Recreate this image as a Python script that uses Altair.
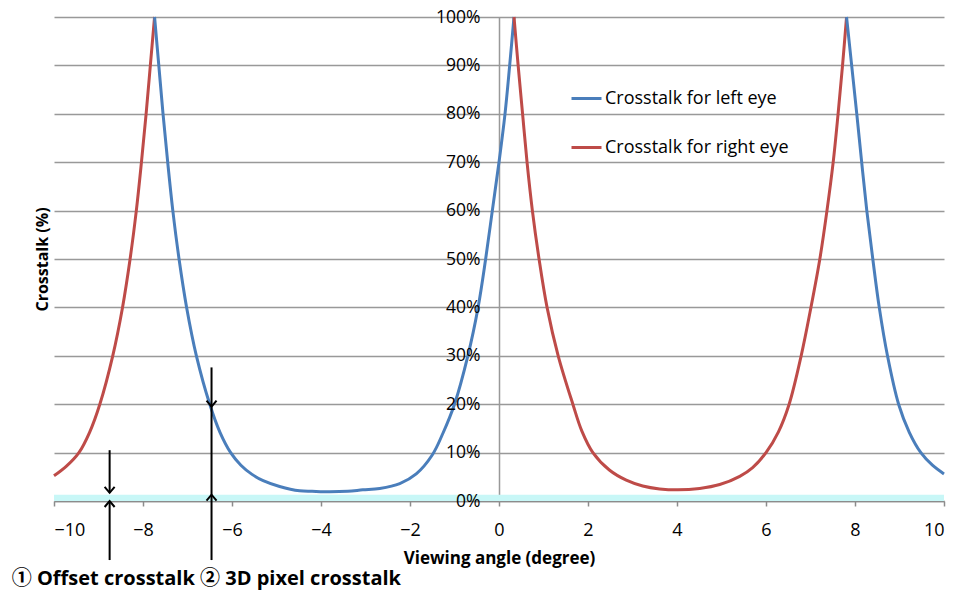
import altair as alt
import pandas as pd

# ---- data ----
# Crosstalk for right eye, left branch (-10 .. first peak)
r1_x = [-10.0, -9.72, -9.44, -9.2, -8.97, -8.68, -8.46, -8.29, -8.15, -8.035, -7.93, -7.835, -7.74]
r1_y = [5.2, 7.2, 10.0, 14.2, 20, 30, 40, 50, 60, 70, 80, 90, 100]
# Crosstalk for left eye, first lobe
l1_x = [-7.74, -7.645, -7.55, -7.445, -7.33, -7.19, -7.02, -6.80, -6.50, -6.27,
        -6.03, -5.80, -5.55, -5.30, -4.93, -4.48, -4.2, -3.8, -3.4, -3.06,
        -2.68, -2.23, -1.86, -1.50, -1.26, -1.0, -0.70, -0.47, -0.30, -0.15,
        0.0, 0.135, 0.24, 0.337]
l1_y = [100, 90, 80, 70, 60, 50, 40, 30, 20, 14.2,
        10.0, 7.4, 5.5, 4.2, 3.0, 2.1, 2.0, 1.9, 2.0, 2.3,
        2.6, 3.6, 5.6, 9.5, 14.0, 20, 30, 40, 50, 60,
        70, 80, 90, 100]
# Crosstalk for right eye, second lobe
r2_x = [0.337, 0.43, 0.53, 0.63, 0.75, 0.90, 1.08, 1.33, 1.66, 1.86,
        2.11, 2.48, 2.86, 3.23, 3.61, 4.02, 4.51, 4.96, 5.41, 5.70,
        6.0, 6.28, 6.52, 6.79, 7.01, 7.21, 7.37, 7.51, 7.62, 7.72, 7.81]
r2_y = [100, 90, 80, 70, 60, 50, 40, 30, 20, 14.5,
        10, 6.4, 4.3, 3.1, 2.5, 2.3, 2.6, 3.4, 5.1, 6.9,
        10, 14.3, 20, 30, 40, 50, 60, 70, 80, 90, 100]
# Crosstalk for left eye, right branch
l2_x = [7.81, 7.925, 8.04, 8.15, 8.265, 8.40, 8.545, 8.73, 8.98, 9.22, 9.48, 9.74, 10.0]
l2_y = [100, 90, 80, 70, 60, 50, 40, 30, 20, 14.2, 10, 7.4, 5.6]

series_names = ["Crosstalk for left eye", "Crosstalk for right eye"]
series_colors = ["#4A7EBB", "#BE4B48"]

# offset band
band_x = [-10, 10]
band_y = [0, 1.3]

# arrows (shafts) and arrow heads
shaft_x = [-8.75, -8.75, -6.46]
shaft_top = [10.5, 0, 27.6]
shaft_bottom = [1.7, -12.2, -12.2]
down_head_x = [-8.75, -6.46]
down_head_y = [1.7, 19.5]
up_head_x = [-8.75, -6.46]
up_head_y = [0.0, 1.3]

note_text = "① Offset crosstalk ② 3D pixel crosstalk"
note_x = -10.95
note_y = -17.4

x_ticks = list(range(-10, 11, 2))
y_ticks = list(range(0, 101, 10))

FONT = "Open Sans, Noto Sans CJK KR, sans-serif"

# ---- build tables ----
rows = []
for seg, (xs, ys, name) in enumerate([
        (r1_x, r1_y, series_names[1]),
        (l1_x, l1_y, series_names[0]),
        (r2_x, r2_y, series_names[1]),
        (l2_x, l2_y, series_names[0])]):
    for a, b in zip(xs, ys):
        rows.append({"x": a, "y": b, "series": name, "seg": seg})
lines_df = pd.DataFrame(rows)

band_df = pd.DataFrame({"x": [band_x[0]], "x2": [band_x[1]], "y": [band_y[0]], "y2": [band_y[1]]})
shaft_df = pd.DataFrame({"x": shaft_x, "y": shaft_top, "y2": shaft_bottom})
down_df = pd.DataFrame({"x": down_head_x, "y": down_head_y})
up_df = pd.DataFrame({"x": up_head_x, "y": up_head_y})
note_df = pd.DataFrame({"x": [note_x], "y": [note_y], "t": [note_text]})

xscale = alt.Scale(domain=[-10, 10], nice=False, zero=False)
yscale = alt.Scale(domain=[0, 100], nice=False)

x_axis = alt.Axis(
    values=x_ticks, grid=False, title="Viewing angle (degree)",
    domainColor="#8c8c8c", domainWidth=1.5, tickColor="#8c8c8c", tickWidth=1.5,
    tickSize=5, labelFontSize=18, labelFont=FONT, labelColor="black",
    labelPadding=15, titleFont=FONT, titleFontSize=17, titleFontWeight="bold",
    titleColor="black", titleY=62, titleBaseline="alphabetic")

# grid + axis line + title (behind the marks)
y_axis_grid = alt.Axis(
    orient="left", values=y_ticks, grid=True, gridColor="#999999", gridWidth=1.5,
    offset=-445, ticks=False, tickSize=0, labels=False,
    domainColor="#999999", domainWidth=1.5, zindex=0,
    title="Crosstalk (%)", titleFont=FONT, titleFontSize=16,
    titleFontWeight="bold", titleColor="black", titleAngle=270,
    titleX=-457, titleY=242, titleAlign="center", titleBaseline="middle")

# tick labels (in front of the band)
y_axis_labels = alt.Axis(
    orient="left", values=y_ticks, grid=False, domain=False, ticks=False, tickSize=0,
    labelExpr="datum.value + '%'", offset=-445, labelPadding=19,
    labelFontSize=17.5, labelFont=FONT, labelColor="black", title=None, zindex=1)

band = alt.Chart(band_df).mark_rect(color="#C8F7F7").encode(
    x=alt.X("x:Q", scale=xscale, axis=x_axis), x2="x2:Q",
    y=alt.Y("y:Q", scale=yscale, axis=y_axis_grid), y2="y2:Q")

lines = alt.Chart(lines_df).mark_line(strokeWidth=3, interpolate="catmull-rom").encode(
    x=alt.X("x:Q", scale=xscale, axis=x_axis),
    y=alt.Y("y:Q", scale=yscale, axis=y_axis_labels),
    color=alt.Color("series:N", scale=alt.Scale(domain=series_names, range=series_colors),
                    legend=alt.Legend(orient="none", legendX=516, legendY=65, title=None,
                                      symbolType="stroke", symbolSize=900,
                                      symbolStrokeWidth=3, labelFontSize=18,
                                      labelFont=FONT, labelColor="black", labelLimit=0,
                                      rowPadding=23, labelOffset=2, padding=0)),
    detail="seg:N")

shafts = alt.Chart(shaft_df).mark_rule(color="black", strokeWidth=2).encode(
    x=alt.X("x:Q", scale=xscale, axis=x_axis),
    y=alt.Y("y:Q", scale=yscale, axis=None), y2="y2:Q")

down_heads = alt.Chart(down_df).mark_point(
    shape="M-1,-1.2L0,0L1,-1.2", size=100, filled=False, stroke="black",
    strokeWidth=2, opacity=1).encode(
    x=alt.X("x:Q", scale=xscale, axis=x_axis), y=alt.Y("y:Q", scale=yscale, axis=None))

up_heads = alt.Chart(up_df).mark_point(
    shape="M-1,1.2L0,0L1,1.2", size=100, filled=False, stroke="black",
    strokeWidth=2, opacity=1).encode(
    x=alt.X("x:Q", scale=xscale, axis=x_axis), y=alt.Y("y:Q", scale=yscale, axis=None))

note = alt.Chart(note_df).mark_text(
    align="left", baseline="alphabetic", fontSize=20, fontWeight="bold",
    font=FONT, color="black").encode(
    x=alt.X("x:Q", scale=xscale, axis=x_axis),
    y=alt.Y("y:Q", scale=yscale, axis=None), text="t:N")

chart = alt.layer(band, lines, shafts, down_heads, up_heads, note).resolve_axis(
    y="independent"
).properties(
    width=890, height=484,
    autosize=alt.AutoSizeParams(type="none"),
    padding={"left": 54, "top": 17, "right": 14, "bottom": 90},
    background="white",
).configure_view(stroke=None)

chart.save("out.html", embed_options={"renderer": "svg", "actions": False})
